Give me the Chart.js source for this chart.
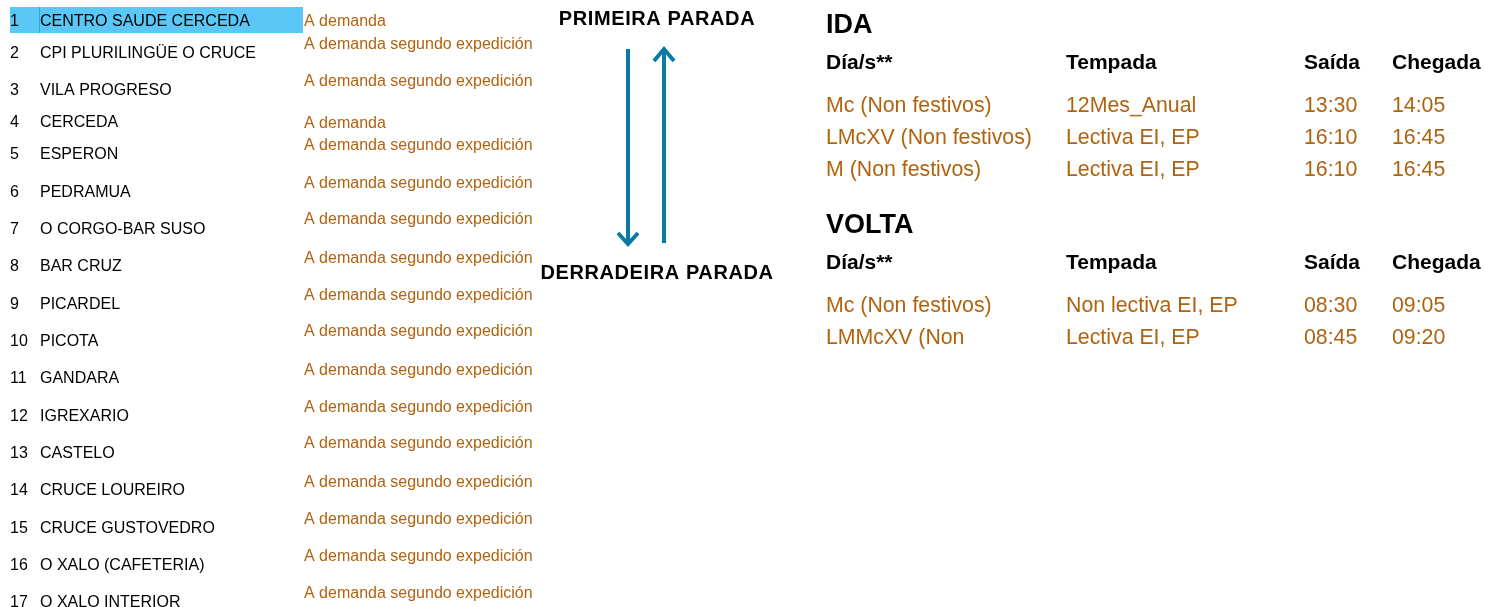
<!DOCTYPE html>
<html>
<head>
<meta charset="utf-8">
<script src="https://cdn.jsdelivr.net/npm/chart.js@4"></script>
<style>
  html, body { margin: 0; padding: 0; background: #fff; }
  #wrap { width: 1485px; height: 607px; position: relative; }
</style>
</head>
<body>
<div id="wrap"><canvas id="chart"></canvas></div>
<script>
// --- data ---
const stops = [
  "CENTRO SAUDE CERCEDA", "CPI PLURILINGÜE O CRUCE", "VILA PROGRESO", "CERCEDA",
  "ESPERON", "PEDRAMUA", "O CORGO-BAR SUSO", "BAR CRUZ", "PICARDEL", "PICOTA",
  "GANDARA", "IGREXARIO", "CASTELO", "CRUCE LOUREIRO", "CRUCE GUSTOVEDRO",
  "O XALO (CAFETERIA)", "O XALO INTERIOR"
];
const stopNotes = [
  "A demanda", "A demanda segundo expedición", "A demanda segundo expedición", "A demanda",
  "A demanda segundo expedición", "A demanda segundo expedición", "A demanda segundo expedición",
  "A demanda segundo expedición", "A demanda segundo expedición", "A demanda segundo expedición",
  "A demanda segundo expedición", "A demanda segundo expedición", "A demanda segundo expedición",
  "A demanda segundo expedición", "A demanda segundo expedición", "A demanda segundo expedición",
  "A demanda segundo expedición"
];
const firstStopLabel = "PRIMEIRA PARADA";
const lastStopLabel = "DERRADEIRA PARADA";
const tableHeaders = ["Día/s**", "Tempada", "Saída", "Chegada"];
const idaDays = ["Mc (Non festivos)", "LMcXV (Non festivos)", "M (Non festivos)"];
const idaSeason = ["12Mes_Anual", "Lectiva EI, EP", "Lectiva EI, EP"];
const idaDepart = ["13:30", "16:10", "16:10"];
const idaArrive = ["14:05", "16:45", "16:45"];
const voltaDays = ["Mc (Non festivos)", "LMMcXV (Non"];
const voltaSeason = ["Non lectiva EI, EP", "Lectiva EI, EP"];
const voltaDepart = ["08:30", "08:45"];
const voltaArrive = ["09:05", "09:20"];

// --- layout (page units, same as the hidden linear scales) ---
const stopRowY = [20, 52, 89, 121, 153, 191, 228, 265, 303, 340, 377, 415, 452, 489, 527, 564, 601];
const noteRowY = [20, 43, 80, 122, 144, 182, 218, 257, 294, 330, 369, 406, 442, 481, 518, 555, 592];
const tableColX = [826, 1066, 1304, 1392];
const ORANGE = "#b0630f";
const BLUE = "#0a7aa5";
const FONT = "'Liberation Sans', Arial, sans-serif";
const TEXT_DY = 1.5; // canvas 'middle' sits a bit high for this font

// arrow shafts and heads as line datasets
const downArrow = [{x: 628, y: 49}, {x: 628, y: 244}];
const downHead = [{x: 618, y: 233}, {x: 628, y: 244}, {x: 638, y: 233}];
const upArrow = [{x: 664, y: 243}, {x: 664, y: 48}];
const upHead = [{x: 654, y: 61}, {x: 664, y: 49}, {x: 674, y: 61}];

function arrowSet(data) {
  return {
    type: 'line', data, borderColor: BLUE, borderWidth: 4,
    pointRadius: 0, fill: false, tension: 0, borderCapStyle: 'butt', borderJoinStyle: 'miter'
  };
}

const textPlugin = {
  id: 'textLayer',
  beforeDatasetsDraw(chart) {
    const {ctx, scales: {x, y}} = chart;
    ctx.save();
    // highlighted first stop
    ctx.fillStyle = "#5ac8f6";
    ctx.fillRect(x.getPixelForValue(10), y.getPixelForValue(7), x.getPixelForValue(303) - x.getPixelForValue(10), 26);
    ctx.fillStyle = "#3aa6d6";
    ctx.fillRect(x.getPixelForValue(39), y.getPixelForValue(7), 1, 26);
    ctx.restore();
  },
  afterDatasetsDraw(chart) {
    const {ctx, scales: {x, y}} = chart;
    const put = (txt, px, py, font, color, align) => {
      ctx.font = font;
      ctx.fillStyle = color;
      ctx.textAlign = align || 'left';
      ctx.fillText(txt, x.getPixelForValue(px), y.getPixelForValue(py + TEXT_DY));
    };
    ctx.save();
    ctx.textBaseline = 'middle';

    stops.forEach((name, i) => {
      put(String(i + 1), 10, stopRowY[i], "16px " + FONT, "#000");
      put(name, 40, stopRowY[i], "16px " + FONT, "#000");
    });
    stopNotes.forEach((note, i) => put(note, 304, noteRowY[i], "16px " + FONT, ORANGE));

    ctx.letterSpacing = "0.6px";
    put(firstStopLabel, 657, 18, "bold 20px " + FONT, "#000", 'center');
    ctx.save();
    ctx.beginPath();
    ctx.rect(x.getPixelForValue(540), 0, 400, chart.height);
    ctx.clip();
    put(lastStopLabel, 657, 272, "bold 20px " + FONT, "#000", 'center');
    ctx.restore();
    ctx.letterSpacing = "0px";

    const section = (title, titleY, headY, firstRowY, cols) => {
      put(title, tableColX[0], titleY, "bold 27px " + FONT, "#000");
      tableHeaders.forEach((h, c) => put(h, tableColX[c], headY, "bold 21px " + FONT, "#000"));
      cols[0].forEach((_, r) => {
        cols.forEach((col, c) => put(col[r], tableColX[c], firstRowY + r * 32, "21.3px " + FONT, ORANGE));
      });
    };
    section("IDA", 24, 62, 105, [idaDays, idaSeason, idaDepart, idaArrive]);
    section("VOLTA", 224, 262, 305, [voltaDays, voltaSeason, voltaDepart, voltaArrive]);
    ctx.restore();
  }
};

new Chart(document.getElementById('chart'), {
  type: 'scatter',
  data: {
    datasets: [arrowSet(downArrow), arrowSet(downHead), arrowSet(upArrow), arrowSet(upHead)]
  },
  options: {
    responsive: true,
    maintainAspectRatio: false,
    animation: false,
    layout: { padding: 0 },
    plugins: { legend: { display: false }, tooltip: { enabled: false } },
    scales: {
      x: { type: 'linear', min: 0, max: 1485, display: false },
      y: { type: 'linear', min: 0, max: 607, reverse: true, display: false }
    }
  },
  plugins: [textPlugin]
});
</script>
</body>
</html>
